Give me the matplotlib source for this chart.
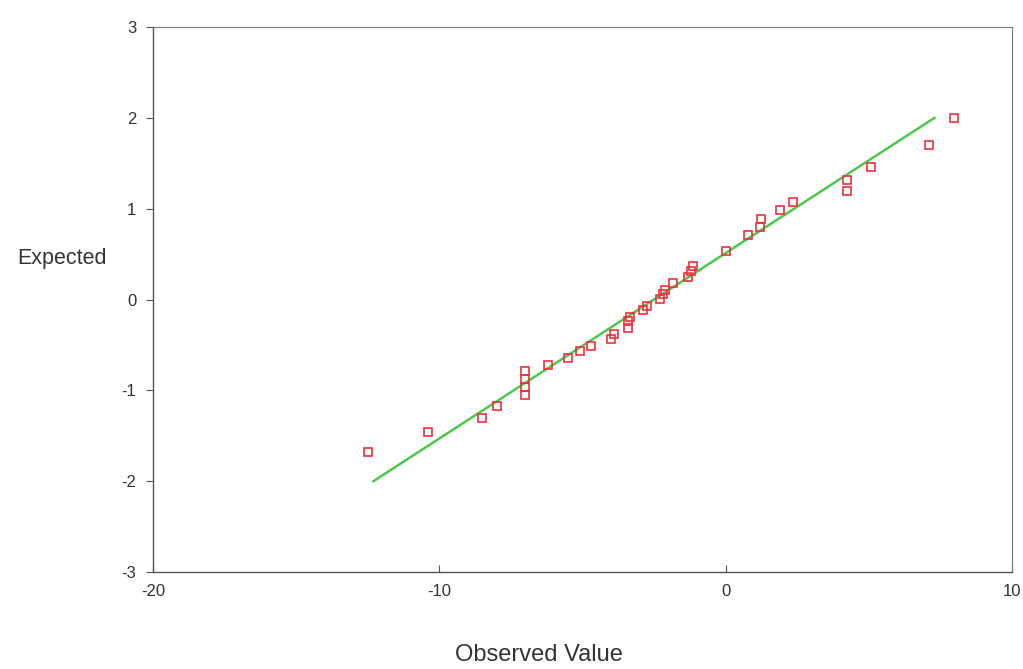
import matplotlib.pyplot as plt

plt.rcParams['font.family'] = ['Liberation Sans', 'DejaVu Sans']
plt.rcParams['axes.unicode_minus'] = False

observed = [-12.5, -10.4, -8.5, -8.0, -7.0, -7.0, -7.0, -7.0, -6.2, -5.5, -5.1, -4.7,
            -4.0, -3.9, -3.4, -3.4, -3.35, -2.9, -2.75, -2.3, -2.2, -2.1, -1.85, -1.3,
            -1.2, -1.15, 0.0, 0.8, 1.2, 1.25, 1.9, 2.35, 4.25, 4.25, 5.1, 7.1, 8.0]
expected = [-1.68, -1.46, -1.31, -1.17, -1.05, -0.96, -0.88, -0.79, -0.72, -0.64, -0.57, -0.51,
            -0.44, -0.38, -0.31, -0.24, -0.19, -0.11, -0.07, 0.01, 0.06, 0.11, 0.18, 0.25,
            0.31, 0.37, 0.53, 0.71, 0.80, 0.89, 0.98, 1.07, 1.19, 1.32, 1.46, 1.70, 2.00]

# reference line end points
line_x = [-12.3, 7.3]
line_y = [-2.0, 2.0]

fig = plt.figure(figsize=(10.23, 6.69), dpi=100)
ax = fig.add_axes([0.1496, 0.145, 0.8394, 0.8146])

ax.plot(line_x, line_y, color='#4cc84c', lw=1.8, zorder=2)
ax.plot(observed, expected, linestyle='none', marker='s', ms=5.5, mfc='none',
        mec='#f0303c', mew=1.2, zorder=3)

ax.set_xlim(-20, 10)
ax.set_ylim(-3, 3)
ax.set_xticks([-20, -10, 0, 10])
ax.set_yticks([-3, -2, -1, 0, 1, 2, 3])
ax.tick_params(axis='y', direction='out', length=5, width=0.8, colors='#555555',
               labelcolor='#333333', labelsize=12, pad=7)
ax.tick_params(axis='x', direction='in', length=5, width=0.8, colors='#555555',
               labelcolor='#333333', labelsize=12, pad=9)

for s in ['left', 'bottom']:
    ax.spines[s].set_color('#555555')
    ax.spines[s].set_linewidth(1.0)
for s in ['top', 'right']:
    ax.spines[s].set_color('#777777')
    ax.spines[s].set_linewidth(0.8)

fig.text(0.061, 0.614, 'Expected', ha='center', va='center', fontsize=15.5, color='#333333')
fig.text(0.527, 0.021, 'Observed Value', ha='center', va='center', fontsize=17, color='#333333')

fig.savefig('out.png', dpi=100)
